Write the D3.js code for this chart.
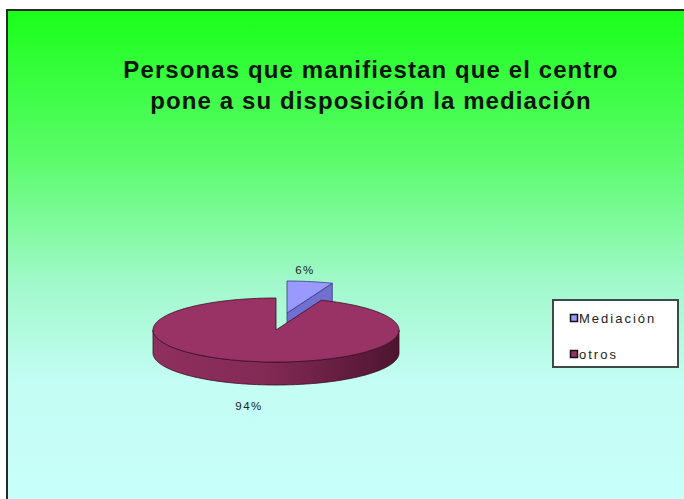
<!DOCTYPE html>
<html><head><meta charset="utf-8">
<script src="https://cdn.jsdelivr.net/npm/d3@7"></script>
<style>html,body{margin:0;padding:0;background:#fff;overflow:hidden}</style>
</head><body>
<script>
const categories = ["Mediación", "otros"];
const values = [6, 94];
const labels = ["6%", "94%"];
const titleLines = ["Personas que manifiestan que el centro", "pone a su disposición la mediación"];

const W = 684, H = 499;
const svg = d3.select("body").append("svg").attr("width", W).attr("height", H);
const defs = svg.append("defs");

const bg = defs.append("linearGradient").attr("id","bg").attr("x1",0).attr("y1",0).attr("x2",0).attr("y2",1);
[[0,"#1aff1a"],[0.3,"#5cfb6c"],[0.55,"#a2f8cc"],[0.75,"#c4fdf4"],[1,"#c8fffa"]].forEach(s=>bg.append("stop").attr("offset",s[0]).attr("stop-color",s[1]));

const sideG = defs.append("linearGradient").attr("id","side").attr("x1",0).attr("y1",0).attr("x2",1).attr("y2",0);
[[0,"#8f2f5e"],[0.45,"#832a55"],[1,"#4e1530"]].forEach(s=>sideG.append("stop").attr("offset",s[0]).attr("stop-color",s[1]));

svg.append("rect").attr("x",7).attr("y",10).attr("width",W).attr("height",H)
  .attr("fill","url(#bg)").attr("stroke","#2a2a2a").attr("stroke-width",2);

// title
svg.append("text").attr("x",371).attr("y",78).attr("text-anchor","middle")
  .attr("font-family","Liberation Sans, Arial, sans-serif").attr("font-weight","bold")
  .attr("font-size",24).attr("letter-spacing",1.1).attr("fill","#0d160d")
  .selectAll("tspan").data(titleLines).join("tspan")
  .attr("x",371).attr("dy",(d,i)=>i?31:0).text(d=>d);

// pie
const cx = 276, cy = 330, rx = 123, ry = 32, depth = 23;
const colors = d3.scaleOrdinal().domain(categories).range(["#9999ff","#993366"]);
const sideColors = {"Mediación":"#6b6bc8","otros":"url(#side)"};
const pie = d3.pie().sort(null).value(d=>d.v).startAngle(0).endAngle(2*Math.PI);
const arcs = pie(categories.map((c,i)=>({c, v: values[i], l: labels[i]})));
const explode = {"Mediación":[11,-17],"otros":[0,0]};

const px = (a,ox)=>cx+ox+rx*Math.sin(a);
const py = (a,oy,dz)=>cy+oy-ry*Math.cos(a)+dz;

function topPath(a0,a1,ox,oy){
  const n = Math.max(2, Math.ceil((a1-a0)/0.02));
  let p = `M${cx+ox},${cy+oy}`;
  for(let i=0;i<=n;i++){const a=a0+(a1-a0)*i/n; p+=`L${px(a,ox)},${py(a,oy,0)}`;}
  return p+"Z";
}
function outerSide(a0,a1,ox,oy){
  const s = Math.max(a0,Math.PI/2), e = Math.min(a1,3*Math.PI/2);
  if(e<=s) return null;
  const n = Math.ceil((e-s)/0.02);
  let p="";
  for(let i=0;i<=n;i++){const a=s+(e-s)*i/n; p+=(i?"L":"M")+`${px(a,ox)},${py(a,oy,0)}`;}
  for(let i=n;i>=0;i--){const a=s+(e-s)*i/n; p+=`L${px(a,ox)},${py(a,oy,depth)}`;}
  return p+"Z";
}
function cutFace(a,ox,oy){
  return `M${cx+ox},${cy+oy}L${px(a,ox)},${py(a,oy,0)}L${px(a,ox)},${py(a,oy,depth)}L${cx+ox},${cy+oy+depth}Z`;
}

const g = svg.append("g");
arcs.forEach(d=>{
  const [ox,oy] = explode[d.data.c];
  const sg = g.append("g");
  const stroke = d.data.c==="otros" ? "#3a0d22" : "#3a3a80";
  if(Math.cos(d.endAngle+Math.PI/2) < 0 && d.endAngle < 2*Math.PI-1e-6){
    sg.append("path").attr("d",cutFace(d.endAngle,ox,oy)).attr("fill", d.data.c==="otros"?"#6a1f44":"#7070d0").attr("stroke",stroke).attr("stroke-width",0.8);
  }
  const os = outerSide(d.startAngle,d.endAngle,ox,oy);
  if(os) sg.append("path").attr("d",os).attr("fill",sideColors[d.data.c]).attr("stroke",stroke).attr("stroke-width",0.8);
  sg.append("path").attr("d",topPath(d.startAngle,d.endAngle,ox,oy)).attr("fill",colors(d.data.c)).attr("stroke",stroke).attr("stroke-width",0.8);
});

// data labels
const labelPos = {"Mediación":[305,274],"otros":[249,410]};
svg.selectAll("text.lbl").data(arcs).join("text").attr("class","lbl")
  .attr("x",d=>labelPos[d.data.c][0]).attr("y",d=>labelPos[d.data.c][1])
  .attr("text-anchor","middle").attr("font-family","Liberation Sans, Arial, sans-serif")
  .attr("font-size",11.5).attr("letter-spacing",1.5).attr("fill","#222").text(d=>d.data.l);

// legend
const lg = svg.append("g");
lg.append("rect").attr("x",553).attr("y",300).attr("width",125).attr("height",67)
  .attr("fill","#fff").attr("stroke","#3a4a45").attr("stroke-width",2);
const items = lg.selectAll("g.it").data(categories).join("g").attr("class","it")
  .attr("transform",(d,i)=>`translate(574,${318+i*36})`);
items.append("rect").attr("x",-3.5).attr("y",-3.5).attr("width",7).attr("height",7)
  .attr("fill",d=>colors(d)).attr("stroke","#111").attr("stroke-width",1.5);
items.append("text").attr("x",5).attr("y",5).attr("font-family","Liberation Sans, Arial, sans-serif")
  .attr("font-size",13).attr("letter-spacing",2).attr("fill","#222").text(d=>d);
</script>
</body></html>
